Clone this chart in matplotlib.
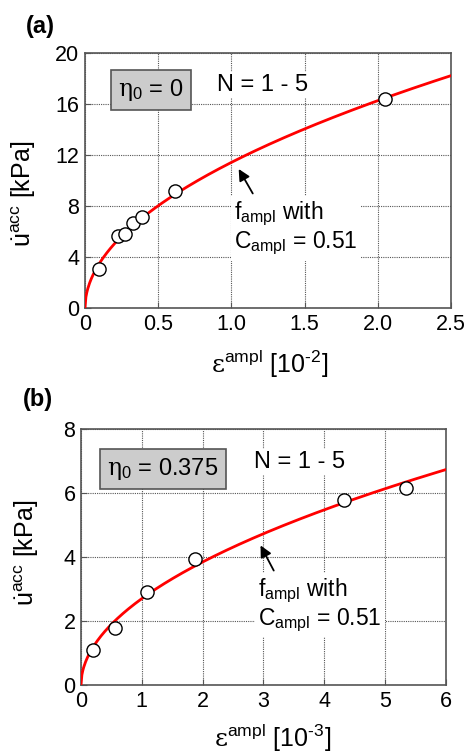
import matplotlib
matplotlib.use('Agg')
import matplotlib.pyplot as plt
import numpy as np

plt.rcParams['font.family'] = ['Liberation Sans', 'DejaVu Sans']
plt.rcParams['mathtext.fontset'] = 'custom'
plt.rcParams['mathtext.rm'] = 'Liberation Sans'
plt.rcParams['mathtext.it'] = 'Liberation Sans:italic'
plt.rcParams['mathtext.bf'] = 'Liberation Sans:bold'
plt.rcParams['mathtext.sf'] = 'DejaVu Serif'

# panel (a): eta0 = 0, strain in 1e-2
a_strain = [0.093, 0.228, 0.273, 0.326, 0.39, 0.617, 2.05]
a_u = [3.06, 5.67, 5.83, 6.67, 7.14, 9.18, 16.39]
a_coef = 11.43

# panel (b): eta0 = 0.375, strain in 1e-3
b_strain = [0.203, 0.558, 1.09, 1.88, 4.33, 5.34]
b_u = [1.095, 1.77, 2.91, 3.94, 5.79, 6.17]
b_coef = 2.70

c_ampl = 0.51  # exponent of the fitted f_ampl curve


def draw_panel(ax, xs, ys, coef, xmax, ymax, xticks, yticks, xticklabels,
               eta_text, box_pos, n_pos, arrow_head, arrow_tail, text_pos,
               exp_label, ylab_xy, xlab_xy):
    xc = np.linspace(0, xmax, 400)
    ax.plot(xc, coef * xc ** c_ampl, color='#ff0000', lw=2, zorder=3)
    ax.plot(xs, ys, 'o', ms=9.5, mfc='white', mec='black', mew=1.0, zorder=4)

    ax.set_xlim(0, xmax)
    ax.set_ylim(0, ymax)
    ax.set_xticks(xticks)
    ax.set_xticklabels(xticklabels)
    ax.set_yticks(yticks)
    ax.grid(True, color='#555555', linestyle=(0, (1, 1)), lw=0.8)
    ax.tick_params(direction='in', length=4, labelsize=15.5, pad=4, color='#555555')
    for s in ax.spines.values():
        s.set_color('#555555')
        s.set_linewidth(1.2)

    ax.text(box_pos[0], box_pos[1], eta_text, transform=ax.transAxes,
            fontsize=17, ha='center', va='center', zorder=5,
            bbox=dict(boxstyle='square,pad=0.3', fc='#cccccc', ec='#555555', lw=1.2))
    ax.text(n_pos[0], n_pos[1], 'N = 1 - 5', transform=ax.transAxes,
            fontsize=17, ha='center', va='center', zorder=5,
            bbox=dict(boxstyle='square,pad=0.1', fc='white', ec='none'))
    ax.annotate('', xy=arrow_head, xytext=arrow_tail,
                arrowprops=dict(arrowstyle='-|>', color='black', lw=1.3,
                                mutation_scale=17), zorder=5)
    ax.text(text_pos[0], text_pos[1],
            r'f$_{\mathrm{ampl}}$ with' + '\n' + r'C$_{\mathrm{ampl}}$ = 0.51',
            fontsize=16.5, ha='left', va='top', linespacing=1.1, zorder=5,
            bbox=dict(boxstyle='square,pad=0.15', fc='white', ec='none'))

    ax.set_ylabel(r'$\dot{\mathrm{u}}^{\mathrm{acc}}$ [kPa]', fontsize=18)
    ax.yaxis.set_label_coords(*ylab_xy)
    ax.set_xlabel(r'$\mathsf{ε}^{\mathrm{ampl}}$ [10$^{\mathrm{‐' + exp_label + '}}$]',
                  fontsize=18)
    ax.xaxis.set_label_coords(*xlab_xy)


fig = plt.figure(figsize=(4.67, 7.54), dpi=100)

ax1 = fig.add_axes([0.182, 0.5915, 0.784, 0.338])
draw_panel(ax1, a_strain, a_u, a_coef, 2.5, 20,
           [0, 0.5, 1.0, 1.5, 2.0, 2.5], [0, 4, 8, 12, 16, 20],
           ['0', '0.5', '1.0', '1.5', '2.0', '2.5'],
           r'$\mathsf{η}_{\mathrm{0}}$ = 0', (0.18, 0.855), (0.486, 0.875),
           (1.04, 11.1), (1.155, 8.8), (1.02, 8.5), '2',
           (-0.128, 0.447), (0.503, -0.155))

ax2 = fig.add_axes([0.1734, 0.0915, 0.7816, 0.3395])
draw_panel(ax2, b_strain, b_u, b_coef, 6, 8,
           [0, 1, 2, 3, 4, 5, 6], [0, 2, 4, 6, 8],
           ['0', '1', '2', '3', '4', '5', '6'],
           r'$\mathsf{η}_{\mathrm{0}}$ = 0.375', (0.225, 0.844), (0.60, 0.871),
           (2.93, 4.44), (3.19, 3.5), (2.91, 3.4), '3',
           (-0.11, 0.516), (0.526, -0.145))

fig.text(0.055, 0.965, '(a)', fontsize=17, fontweight='bold', ha='left', va='center')
fig.text(0.05, 0.47, '(b)', fontsize=17, fontweight='bold', ha='left', va='center')

fig.savefig('out.png', dpi=100)
